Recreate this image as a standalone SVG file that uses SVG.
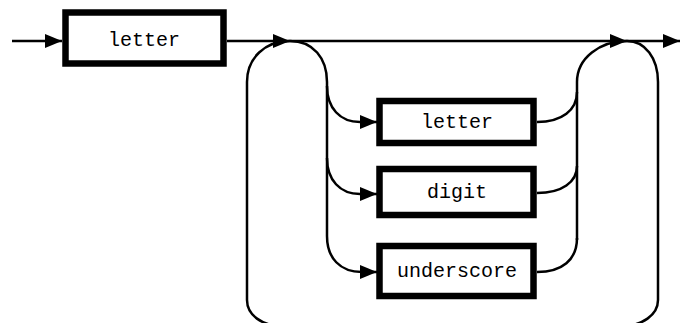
<svg xmlns="http://www.w3.org/2000/svg" width="680" height="323" viewBox="0 0 680 323">
<style>
.box{fill:#fff;stroke:#000;stroke-width:6.5}
.lbl{font-family:"Liberation Mono","DejaVu Sans Mono",monospace;font-size:20px;fill:#000;text-anchor:middle;dominant-baseline:central}
.c{fill:none;stroke:#000;stroke-width:2.5}
</style>
<defs>
<marker id="ah" markerUnits="userSpaceOnUse" markerWidth="18" markerHeight="16" refX="17" refY="8" orient="auto">
<path d="M0,1 L17,8 L0,15 z" fill="#000"/>
</marker>
</defs>
<rect width="680" height="323" fill="#fff"/>
<g id="connectors">
<path class="c" d="M12,41 L62,41" marker-end="url(#ah)"/>
<path class="c" d="M227,41 L680,41" marker-end="url(#ah)"/>
<path class="c" d="M247,300 L247,82 C247,58 265,41 290,41" marker-end="url(#ah)"/>
<path class="c" d="M247,300 C247,315 262,326 282,326 L622,326 C642,326 658,315 658,300"/>
<path class="c" d="M627,41 C645,41 658,58 658,82 L658,300"/>
<path class="c" d="M290,41 C313,41 327,58 327,82 L327,236 C327,258 340,272 362,272 L377,272" marker-end="url(#ah)"/>
<path class="c" d="M327,86 C327,108 340,122 360,122 L377,122" marker-end="url(#ah)"/>
<path class="c" d="M327,158 C327,180 340,194 360,194 L377,194" marker-end="url(#ah)"/>
<path class="c" d="M577,240 L577,82 C577,58 600,41 627,41" marker-end="url(#ah)"/>
<path class="c" d="M537,122 C562,122 577,110 577,92"/>
<path class="c" d="M537,193 C562,193 577,182 577,166"/>
<path class="c" d="M537,272 C562,272 577,260 577,238"/>
</g>
<g id="n-letter-main">
<rect class="box" x="65.5" y="12.5" width="158" height="51"/>
<text class="lbl" x="144" y="40">letter</text>
</g>
<g id="n-letter">
<rect class="box" x="379.5" y="101" width="154" height="42"/>
<text class="lbl" x="457" y="122">letter</text>
</g>
<g id="n-digit">
<rect class="box" x="379.5" y="169" width="154" height="46"/>
<text class="lbl" x="457" y="192">digit</text>
</g>
<g id="n-underscore">
<rect class="box" x="379.5" y="246" width="154" height="50"/>
<text class="lbl" x="457" y="271">underscore</text>
</g>
</svg>
